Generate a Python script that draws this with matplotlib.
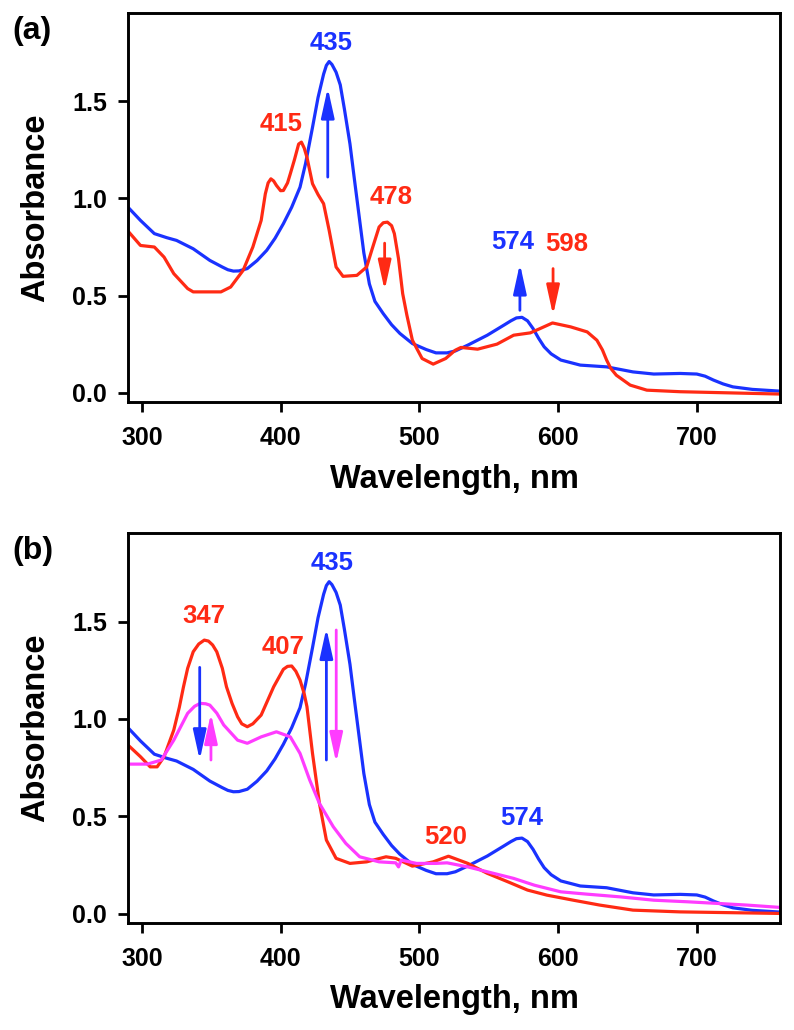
import matplotlib
matplotlib.use("Agg")
import matplotlib.pyplot as plt
import numpy as np

plt.rcParams['font.family'] = ['Liberation Sans', 'DejaVu Sans']
plt.rcParams['font.weight'] = 'bold'

# ---------------- data ----------------
# Blue spectrum (same in both panels)
wl_blue = [290, 299, 309, 318, 325, 337, 349, 358, 362, 366, 370, 376, 383, 390, 396, 402, 408,
           414, 418, 423, 427, 431, 433, 435, 437, 440, 443, 446, 450, 453, 457, 460, 464, 468,
           474, 480, 486, 495, 505, 512, 520, 526, 535, 549, 561, 566, 570, 574, 578, 582, 586,
           590, 595, 602, 616, 635, 654, 669, 688, 700, 706, 712, 719, 726, 740, 760]
abs_blue = [0.955, 0.887, 0.819, 0.798, 0.784, 0.741, 0.681, 0.647, 0.633, 0.626, 0.627, 0.639,
            0.680, 0.733, 0.795, 0.870, 0.955, 1.058, 1.180, 1.366, 1.520, 1.640, 1.685, 1.705,
            1.690, 1.650, 1.585, 1.460, 1.281, 1.110, 0.887, 0.720, 0.560, 0.470, 0.407, 0.350,
            0.305, 0.253, 0.222, 0.205, 0.205, 0.215, 0.245, 0.296, 0.348, 0.370, 0.385, 0.388,
            0.370, 0.330, 0.280, 0.236, 0.200, 0.168, 0.142, 0.133, 0.107, 0.096, 0.099, 0.096,
            0.085, 0.065, 0.045, 0.030, 0.017, 0.008]

# Red spectrum, panel (a)
wl_red_a = [290, 299, 309, 316, 323, 333, 337, 357, 364, 373, 380, 386, 389, 391, 393, 395, 397,
            400, 402, 405, 407, 410, 413, 415, 417, 419, 423, 427, 431, 435, 440, 445, 455, 462,
            466, 471, 474, 477, 480, 482, 485, 488, 491, 495, 502, 510, 519, 526, 530, 542, 556,
            568, 580, 587, 596, 609, 621, 628, 632, 635, 638, 642, 652, 664, 688, 760]
abs_red_a = [0.832, 0.758, 0.750, 0.698, 0.613, 0.536, 0.519, 0.519, 0.544, 0.630, 0.750, 0.887,
             1.024, 1.080, 1.101, 1.090, 1.067, 1.040, 1.041, 1.080, 1.127, 1.200, 1.280, 1.290,
             1.260, 1.212, 1.076, 1.020, 0.973, 0.836, 0.647, 0.599, 0.604, 0.647, 0.740, 0.853,
             0.875, 0.878, 0.860, 0.819, 0.690, 0.510, 0.400, 0.270, 0.176, 0.147, 0.176, 0.219,
             0.233, 0.224, 0.250, 0.296, 0.308, 0.330, 0.359, 0.339, 0.313, 0.270, 0.220, 0.168,
             0.125, 0.090, 0.039, 0.013, 0.005, -0.007]

# Red spectrum, panel (b)
wl_red_b = [290, 299, 306, 311, 316, 323, 327, 330, 333, 337, 341, 345, 348, 351, 354, 358, 361,
            365, 369, 372, 376, 380, 386, 395, 402, 405, 408, 411, 414, 417, 419, 423, 428, 433,
            440, 450, 462, 476, 483, 495, 510, 521, 535, 549, 564, 578, 592, 611, 630, 654, 688,
            760]
abs_red_b = [0.866, 0.806, 0.754, 0.754, 0.806, 0.943, 1.060, 1.165, 1.260, 1.345, 1.385, 1.405,
             1.400, 1.380, 1.345, 1.260, 1.165, 1.080, 1.011, 0.975, 0.960, 0.975, 1.020, 1.165,
             1.255, 1.270, 1.272, 1.245, 1.200, 1.130, 1.063, 0.823, 0.566, 0.378, 0.284, 0.258,
             0.266, 0.292, 0.284, 0.244, 0.266, 0.295, 0.258, 0.207, 0.163, 0.121, 0.095, 0.069,
             0.044, 0.018, 0.009, 0.001]

# Magenta spectrum, panel (b)
wl_mag = [290, 304, 314, 323, 333, 338, 342, 346, 349, 354, 359, 369, 376, 386, 397, 407, 414,
          421, 428, 438, 447, 457, 471, 483, 485, 487, 498, 512, 520, 535, 549, 568, 583, 602,
          621, 645, 669, 693, 716, 736, 760]
abs_mag = [0.768, 0.768, 0.789, 0.891, 1.029, 1.065, 1.080, 1.078, 1.071, 1.030, 0.969, 0.891,
           0.875, 0.908, 0.934, 0.908, 0.823, 0.686, 0.566, 0.446, 0.361, 0.292, 0.266, 0.261,
           0.240, 0.275, 0.258, 0.258, 0.261, 0.240, 0.215, 0.181, 0.146, 0.112, 0.100, 0.086,
           0.069, 0.061, 0.052, 0.044, 0.032]

x_ticks = [300, 400, 500, 600, 700]
y_ticks = [0.0, 0.5, 1.0, 1.5]

RED = '#ff2a14'
BLUE = '#1a32ff'
MAG = '#ff3cff'

# labels: (text, x, y, colour)
labels_a = [('435', 436.5, 1.80, BLUE), ('415', 400.5, 1.385, RED), ('478', 480, 1.007, RED),
            ('574', 567, 0.775, BLUE), ('598', 606.5, 0.767, RED)]
labels_b = [('347', 344.6, 1.529, RED), ('407', 402, 1.371, RED), ('435', 436.8, 1.80, BLUE),
            ('520', 519, 0.395, RED), ('574', 573.5, 0.489, BLUE)]
# arrows: (x, y_tail, y_head, colour)
arrows_a = [(434, 1.11, 1.57, BLUE), (475, 0.77, 0.527, RED), (572.5, 0.424, 0.664, BLUE),
            (596.4, 0.639, 0.399, RED)]
arrows_b = [(341.7, 1.265, 0.789, BLUE), (349.8, 0.789, 1.029, MAG), (433, 0.789, 1.466, BLUE),
            (440.1, 1.457, 0.775, MAG)]

fig = plt.figure(figsize=(7.94, 10.30), dpi=100)
ax_a = fig.add_axes([0.1612, 0.6097, 0.8212, 0.3777])
ax_b = fig.add_axes([0.1612, 0.1039, 0.8212, 0.3786])


def style(ax):
    ax.set_xlim(290, 760)
    ax.set_ylim(-0.048, 1.955)
    ax.set_xticks(x_ticks)
    ax.set_yticks(y_ticks)
    ax.set_yticklabels([f"{v:.1f}" for v in y_ticks])
    for s in ax.spines.values():
        s.set_linewidth(2.1)
    ax.tick_params(axis='both', direction='out', length=7, width=2.0, labelsize=18)
    ax.tick_params(axis='x', pad=10)
    ax.tick_params(axis='y', pad=8)
    for lab in ax.get_xticklabels() + ax.get_yticklabels():
        lab.set_fontweight('bold')
    ax.set_xlabel('Wavelength, nm', fontsize=23.5, fontweight='bold', labelpad=10)
    ax.set_ylabel('Absorbance', fontsize=23.5, fontweight='bold', labelpad=15)


def annotate(ax, labels, arrows):
    for t, x, y, c in labels:
        ax.text(x, y, t, color=c, fontsize=18.5, fontweight='bold', ha='center', va='center')
    for x, y0, y1, c in arrows:
        ax.annotate('', xy=(x, y1), xytext=(x, y0),
                    arrowprops=dict(arrowstyle='-|>,head_length=1.0,head_width=0.22',
                                    color=c, lw=2.0, mutation_scale=18,
                                    shrinkA=0, shrinkB=0))


LW = 2.3
ax_a.plot(wl_blue, abs_blue, color=BLUE, lw=LW, solid_joinstyle='round')
ax_a.plot(wl_red_a, abs_red_a, color=RED, lw=LW, solid_joinstyle='round')
style(ax_a)
annotate(ax_a, labels_a, arrows_a)

ax_b.plot(wl_blue, abs_blue, color=BLUE, lw=LW, solid_joinstyle='round')
ax_b.plot(wl_red_b, abs_red_b, color=RED, lw=LW, solid_joinstyle='round')
ax_b.plot(wl_mag, abs_mag, color=MAG, lw=LW, solid_joinstyle='round')
style(ax_b)
annotate(ax_b, labels_b, arrows_b)

fig.text(0.015, 0.970, '(a)', fontsize=23, fontweight='bold', va='center', ha='left')
fig.text(0.015, 0.465, '(b)', fontsize=23, fontweight='bold', va='center', ha='left')

fig.savefig('out.png', dpi=100)
